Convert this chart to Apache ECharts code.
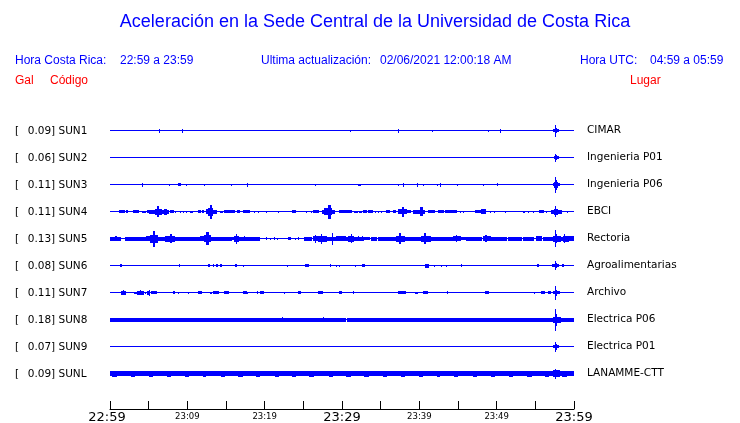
<!DOCTYPE html>
<html>
<head>
<meta charset="utf-8">
<script src="https://cdn.jsdelivr.net/npm/echarts@6/dist/echarts.min.js"></script>
<style>html,body{margin:0;padding:0;background:#fff}#c{width:740px;height:423px}</style>
</head>
<body>
<div id="c"></div>
<script>
// ---- data ----
const stations = ['SUN1','SUN2','SUN3','SUN4','SUN5','SUN6','SUN7','SUN8','SUN9','SUNL'];
const places = ['CIMAR','Ingenieria P01','Ingenieria P06','EBCI','Rectoria','Agroalimentarias','Archivo','Electrica P06','Electrica P01','LANAMME-CTT'];
const galValues = ['0.09','0.06','0.11','0.11','0.13','0.08','0.11','0.18','0.07','0.09'];
const tickLabels = ['22:59','','23:09','','23:19','','23:29','','23:39','','23:49','','23:59'];
const majorLabels = ['22:59','23:29','23:59'];
// events: [start minute, end minute, half amplitude]
const sun1 = [[6.38,6.38,2],[9.35,9.35,2],[31.12,31.12,1],[37.33,37.33,2],[41.68,41.68,1],[48.92,48.92,1],[50.51,50.51,2],[57.4,58.0,1.2],[57.55,57.8,2.5],[57.67,57.67,6]];
const sun2 = [[57.45,58.0,1.2],[57.58,57.78,2.5],[57.67,57.67,4]];
const sun3 = [[4.18,4.18,2],[7.67,7.67,1],[8.83,9.18,1.5],[9.9,9.9,1],[12.2,12.2,1],[15.7,15.7,1],[17.76,17.76,2],[26.55,26.55,1],[32.1,32.4,1],[37.33,37.33,1],[37.93,37.93,2],[39.78,39.78,2],[40.6,40.6,1],[42.37,42.37,1],[42.76,42.76,2],[44.95,44.95,1],[48.36,48.36,1],[50.08,50.08,1.5],[57.3,58.1,1.5],[57.5,57.85,3],[57.6,57.75,5],[57.67,57.67,8]];
const sun4 = [[1.2,1.5,1.3],[1.64,1.85,1.3],[2.07,2.28,1.3],[3.02,3.14,1.3],[3.32,3.66,1.3],[4.18,4.6,1],[4.87,5.04,1.3],[5.17,5.82,2],[5.82,6.6,3],[6.1,6.3,5.5],[6.6,7.54,2],[7.0,7.3,3],[7.76,8.23,1.5],[8.53,8.53,1],[9.18,9.18,1],[9.44,9.44,1],[9.9,9.9,1],[10.39,10.65,1],[11.42,11.64,1.5],[11.94,12.15,1.5],[12.5,12.8,2.5],[12.8,13.23,4],[12.95,13.1,7],[13.23,13.8,2],[14.35,14.5,1],[14.87,16.16,1.5],[16.5,16.8,1.5],[17.24,18.0,1.5],[18.66,18.66,1],[19.18,19.18,1],[20.2,20.2,1],[21.76,21.76,1],[23.57,24.0,1.3],[25.43,25.43,1],[26.07,26.07,1],[26.29,26.94,1.5],[27.45,27.8,2],[27.8,28.66,3.5],[28.3,28.45,7],[28.66,29.09,2],[29.65,31.25,1.5],[31.68,31.98,1],[32.3,32.5,1],[32.84,33.19,1.3],[33.4,33.9,1.3],[34.3,34.3,1],[34.7,34.7,1],[35.13,35.13,1],[35.77,36.2,1.3],[36.64,36.98,1.5],[37.28,38.36,2.5],[37.8,38.0,5],[38.36,38.8,1.5],[39.22,40.08,2],[40.08,40.73,2],[40.2,40.35,4.5],[41.16,42.02,1.5],[42.45,43.1,1.5],[43.32,44.83,1.5],[45.34,45.34,1],[45.77,45.77,1],[47.2,48.5,1.5],[48.0,48.5,2.5],[49.14,49.14,1],[49.78,49.78,1],[51.16,51.16,1],[53.45,53.66,1],[54.09,54.09,1],[54.74,54.74,1],[55.6,56.03,1.5],[56.46,56.46,1],[57.11,58.4,2],[57.5,57.85,3],[57.67,57.67,5.5],[59.1,59.1,1]];
const sun5 = [[0,1.3,2],[0.65,0.85,2.5],[1.94,4.74,2],[4.74,5.17,2.5],[5.3,6.16,4],[5.6,5.75,8],[6.16,7.24,2],[7.24,8.4,3],[7.8,8.0,4.5],[8.4,11.64,2],[11.72,12.07,2.5],[12.2,13.06,3.5],[12.5,12.7,6.5],[13.06,15.73,2],[15.73,16.07,1.5],[16.07,16.68,3],[16.3,16.4,5],[16.68,19.27,2],[17.45,17.45,2.5],[20.26,20.26,1.5],[20.78,20.78,1],[21.25,21.25,1.5],[21.68,21.68,1],[23.06,23.4,1.5],[24.05,24.05,1],[24.35,24.35,1.5],[25.2,26.07,2],[26.29,26.94,2.5],[26.55,26.6,4],[26.94,28.0,3],[27.3,27.4,5],[28.0,28.66,2],[28.75,28.8,6],[28.88,30.82,2],[29.3,30.4,2.5],[30.82,31.46,3],[31.25,31.25,4.5],[31.46,32.75,2],[32.11,32.11,2.5],[32.67,32.67,2.5],[32.97,33.6,1.5],[33.83,34.48,2],[34.7,37.07,2],[37.07,38.14,3],[37.45,37.55,5.5],[38.14,40.3,2],[40.3,41.38,3],[40.7,40.8,5.5],[41.38,44.4,2],[44.4,45.26,2.5],[44.8,44.85,3.5],[45.26,46.12,1.5],[46.12,47.2,2],[47.4,48.06,2],[48.27,49.14,2.5],[48.6,48.65,3.5],[49.14,51.29,2],[51.5,53.23,2],[53.45,54.74,2],[55.17,55.8,2.5],[56.03,57.33,2],[57.33,58.2,3],[57.55,57.8,4.5],[57.67,57.67,8.5],[58.2,58.62,2],[58.62,59.26,3],[58.83,58.83,4.5],[59.26,60,2.5]];
const sun6 = [[1.3,1.5,1.5],[9.05,9.05,1.5],[12.72,12.93,1.5],[13.36,13.36,1.3],[13.8,13.9,1.5],[14.3,14.4,1.5],[16.25,16.35,1.5],[17.24,17.24,1],[18.83,18.83,0.7],[22.93,22.93,1],[25.3,25.35,1.2],[25.6,25.65,1.2],[28.57,28.57,1.5],[29.3,29.3,1],[29.74,29.74,1],[31.77,31.77,1],[32.7,32.85,1.5],[36.2,36.2,0.7],[40.86,41.16,2],[42.02,42.02,1],[42.9,42.9,1],[43.45,43.45,1],[45.4,45.5,1.5],[51.85,51.85,0.7],[55.3,55.4,1.5],[57.2,57.97,1.5],[57.55,57.8,2.5],[57.67,57.67,4.5],[58.5,58.6,1.5]];
const sun7 = [[1.5,1.94,2],[1.72,1.72,2.5],[3.23,3.45,1],[3.53,4.31,2],[3.88,3.88,2.5],[4.6,4.6,1],[4.87,5.17,2],[5.09,5.09,3],[5.39,6.03,1.5],[8.2,8.4,1.5],[8.88,8.88,1],[10.13,10.13,1],[10.77,10.77,0.7],[11.42,11.77,1.5],[12.97,13.15,1],[13.36,14.0,1.5],[14.87,15.3,1.5],[17.24,17.67,1.2],[17.8,17.8,1],[19.09,19.09,1.5],[19.52,19.83,1.5],[22.54,22.54,1],[24.35,24.6,1.5],[26.94,27.5,1.5],[29.74,29.96,1.5],[31.46,31.46,1.5],[37.07,37.07,0.7],[37.28,37.71,1.5],[37.84,38.23,1.5],[39.01,39.01,0.7],[39.52,39.78,1],[40.52,41.03,1.5],[43.62,43.62,1.5],[48.57,48.92,1.5],[53.36,53.36,0.7],[54.87,54.87,1],[55.82,56.25,1.5],[56.68,56.98,1.5],[57.33,58.1,1.5],[57.55,57.8,3],[57.67,57.67,7]];
const sun8 = [[0,30.5,2],[30.7,60,2],[22.3,22.3,2.5],[27.6,27.6,2.5],[57.33,58.2,3],[57.55,57.8,6],[57.67,57.67,11]];
const sun9 = [[56.46,56.46,0.8],[57.4,57.95,1.5],[57.55,57.8,3],[57.67,57.67,5]];
const sunL = [[0,60,2.2],[0.3,0.86,3],[2.72,3.15,3],[3.66,3.66,2.8],[5.09,5.47,3],[7.41,7.76,3],[8.19,8.19,2.8],[9.6,9.6,2.8],[9.7,10.2,3],[12.07,12.37,3],[14.44,14.78,3],[15.8,15.8,2.8],[16.6,17.1,3],[18.96,19.3,3],[19.5,19.5,2.8],[21.46,21.76,3],[23.62,24.05,3],[25.86,26.0,3],[26.2,26.35,3],[28.36,28.8,3],[30.52,31.16,3],[32.97,33.4,3],[35.43,35.77,3],[37.63,38.14,3],[40.0,40.43,3],[42.33,42.67,3],[44.52,44.95,3],[46.98,47.33,3],[49.35,49.7,3],[51.72,52.07,3],[54.0,54.44,3],[56.25,56.76,3],[57.4,58.1,3.2],[57.67,57.67,5],[58.53,59.05,3]];
const traces = [sun1,sun2,sun3,sun4,sun5,sun6,sun7,sun8,sun9,sunL];

// ---- build ----
const TRACE_COLOR = '#0000ff';
const eventData = [];
traces.forEach((ev, s) => {
  eventData.push([0, 60, 0.5, s]); // baseline
  ev.forEach(e => eventData.push([e[0], e[1], e[2], s]));
});

function renderItem(params, api) {
  const t0 = api.value(0), t1 = api.value(1), a = api.value(2), s = api.value(3);
  const p0 = api.coord([t0, s]);
  const p1 = api.coord([t1, s]);
  const k = api.size([0, 1])[1] / 27;
  const left = Math.floor(p0[0]);
  let right = Math.ceil(p1[0]);
  if (right - left < 1) right = left + 1;
  const top = Math.round(p0[1] - a * k);
  let bottom = Math.round(p0[1] + a * k);
  if (bottom - top < 1) bottom = top + 1;
  return { type: 'rect', shape: { x: left, y: top, width: right - left, height: bottom - top }, style: { fill: TRACE_COLOR } };
}

const BLUE = '#0000ff', RED = '#ff0000';
const headFont = '12px "Liberation Sans", Arial, sans-serif';
function txt(x, y, text, fill, font, align) {
  return { type: 'text', x: x, y: y, silent: true, style: { text: text, fill: fill, font: font, align: align || 'left', verticalAlign: 'middle' } };
}

const chart = echarts.init(document.getElementById('c'), null, { renderer: 'canvas' });
chart.setOption({
  animation: false,
  backgroundColor: '#ffffff',
  graphic: [
    txt(375, 22, 'Aceleración en la Sede Central de la Universidad de Costa Rica', BLUE, '18px "Liberation Sans", Arial, sans-serif', 'center'),
    txt(15, 61, 'Hora Costa Rica:', BLUE, headFont),
    txt(120, 61, '22:59 a 23:59', BLUE, headFont),
    txt(261, 61, 'Ultima actualización:', BLUE, headFont),
    txt(380, 61, '02/06/2021 12:00:18 AM', BLUE, headFont),
    txt(580, 61, 'Hora UTC:', BLUE, headFont),
    txt(650, 61, '04:59 a 05:59', BLUE, headFont),
    txt(15, 81, 'Gal', RED, headFont),
    txt(50, 81, 'Código', RED, headFont),
    txt(630, 81, 'Lugar', RED, headFont)
  ],
  grid: { left: 110, right: 166, top: 117, height: 270, containLabel: false, outerBoundsMode: 'none' },
  xAxis: {
    type: 'value', min: 0, max: 60, interval: 5,
    offset: 22,
    axisLine: { show: true, lineStyle: { color: '#000', width: 1 } },
    axisTick: { show: true, inside: true, length: 8, lineStyle: { color: '#000', width: 1 } },
    splitLine: { show: false },
    axisLabel: {
      show: true, margin: 2, showMinLabel: true, showMaxLabel: true,
      formatter: function (v) {
        const idx = Math.round(v / 5);
        const lab = tickLabels[idx] || '';
        if (!lab) return '';
        if (idx === 0) return '{f|' + lab + '}';
        return majorLabels.indexOf(lab) >= 0 ? '{b|' + lab + '}' : '{s|' + lab + '}';
      },
      rich: {
        f: { fontFamily: 'DejaVu Sans', fontSize: 13, color: '#000', lineHeight: 14, padding: [0, 6, 0, 0] },
        b: { fontFamily: 'DejaVu Sans', fontSize: 13, color: '#000', lineHeight: 14 },
        s: { fontFamily: 'DejaVu Sans', fontSize: 8.5, color: '#000', lineHeight: 12 }
      }
    }
  },
  yAxis: [
    {
      type: 'category', data: stations, inverse: true, position: 'left',
      axisLine: { show: false }, axisTick: { show: false }, splitLine: { show: false },
      axisLabel: {
        align: 'left', margin: 95, padding: [2, 0, 0, 0],
        formatter: function (v, i) { return '{b|[}{v|' + galValues[i] + '] ' + v + '}'; },
        rich: {
          b: { width: 12.7, fontFamily: 'DejaVu Sans', fontSize: 10.5, color: '#000' },
          v: { fontFamily: 'DejaVu Sans', fontSize: 10.5, color: '#000' }
        }
      }
    },
    {
      type: 'category', data: stations, inverse: true, position: 'right',
      axisLine: { show: false }, axisTick: { show: false }, splitLine: { show: false },
      axisLabel: {
        align: 'left', margin: 13, padding: [2, 0, 0, 0], fontFamily: 'DejaVu Sans', fontSize: 10.5, color: '#000',
        formatter: function (v, i) { return places[i]; }
      }
    }
  ],
  series: [{
    type: 'custom', renderItem: renderItem, clip: false, silent: true,
    xAxisIndex: 0, yAxisIndex: 0,
    encode: { x: [0, 1], y: 3 },
    data: eventData
  }]
});
</script>
</body>
</html>
